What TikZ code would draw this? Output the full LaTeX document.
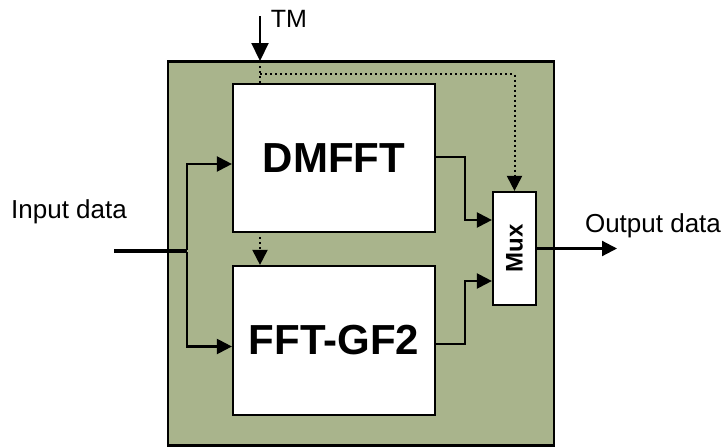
\documentclass[tikz,border=0pt]{standalone}
\usepackage{fontspec}
\setmainfont{Liberation Sans}
\usetikzlibrary{arrows.meta,calc}
\definecolor{olivebg}{RGB}{169,180,140}
\tikzset{
  blockbox/.style={draw=black, line width=2.2pt, fill=white, inner sep=0pt, font=\fontsize{42}{48}\selectfont\bfseries},
  outerbox/.style={draw=black, line width=2.2pt, fill=olivebg, inner sep=0pt},
  arr/.style={line width=2.2pt, -{Triangle[length=15pt,width=15pt]}},
  bigarr/.style={line width=2.2pt, -{Triangle[length=18pt,width=17pt]}},
  dotarr/.style={line width=2pt, dash pattern=on 2pt off 3pt, -{Triangle[length=15pt,width=15pt]}},
  dotline/.style={line width=2pt, dash pattern=on 2pt off 3pt},
  lbl/.style={font=\fontsize{26}{30}\selectfont, inner sep=0pt}
}
\begin{document}
\begin{tikzpicture}[x=1pt,y=-1pt]
\useasboundingbox (0,0) rectangle (724,447);
\node[outerbox, minimum width=386pt, minimum height=384pt] (outer) at (361,253.5) {};
\node[blockbox, minimum width=202pt, minimum height=148pt] (dm) at (334,158) {DMFFT};
\node[blockbox, minimum width=202pt, minimum height=149pt] (fft) at (334,340.5) {FFT-GF2};
\node[blockbox, minimum width=43pt, minimum height=113pt] (mux) at (514.5,248.5) {};
\node[font=\fontsize{24}{28}\selectfont\bfseries, rotate=90, inner sep=0pt] (muxlbl) at (mux.center) {Mux};
\node[lbl] (inlbl) at (69,212) {Input data};
\node[lbl] (outlbl) at (653,226) {Output data};
\node[lbl, font=\fontsize{25}{30}\selectfont] (tmlbl) at (289,19) {TM};
\coordinate (in) at (114,251);
\coordinate (j) at (187,251);
\coordinate (tm) at (260,16);
\coordinate (out) at (617,248.5);
\coordinate (tmin) at (260,61);
\coordinate (tmsplit) at (260,74);
% input
\draw[line width=3.2pt] (in) -- (j);
\draw[arr] ([yshift=1pt]j) |- ([yshift=-6pt]dm.west);
\draw[arr] ([yshift=-1pt]j) |- ([yshift=-6pt]fft.west);
% outputs to mux
\draw[arr] ([yshift=1pt]dm.east) -- ++(29,0) |- ([yshift=28.5pt]mux.west);
\draw[arr] ([yshift=-3.5pt]fft.east) -- ++(29,0) |- ([yshift=-32.5pt]mux.west);
\draw[arr] (mux.east) -- (out);
% TM
\draw[bigarr] (tm) -- (tmin);
\draw[dotline] (tmin) -- (dm.north -| tmin);
\draw[dotarr] (tmsplit) -| (mux.north);
\draw[dotarr] ([yshift=-4pt]dm.south -| tmin) -- (fft.north -| tmin);
\end{tikzpicture}
\end{document}
